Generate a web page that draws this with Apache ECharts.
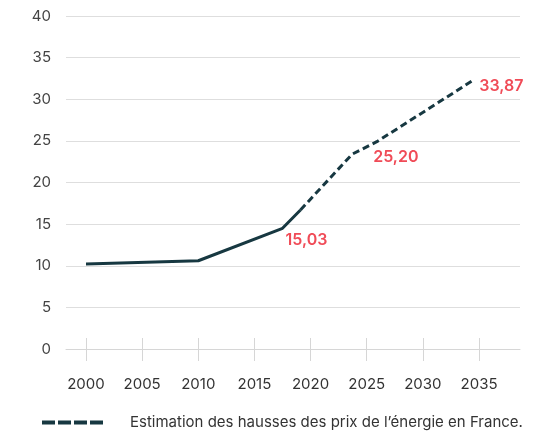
<!DOCTYPE html>
<html>
<head>
<meta charset="utf-8">
<script src="https://cdn.jsdelivr.net/npm/echarts@6/dist/echarts.min.js"></script>
<style>
  html, body { margin: 0; padding: 0; background: #fff; }
  #chart { width: 551px; height: 432px; }
</style>
</head>
<body>
<div id="chart"></div>
<script>
// historical (solid) part
const solidYears = [2000, 2010, 2017.5, 2019.1];
const solidValues = [10.2, 10.6, 14.5, 16.7];
// estimate (dashed) part
const dashYears = [2019.1, 2023.7, 2025.9, 2034.5];
const dashValues = [16.7, 23.4, 24.9, 32.3];
// annotated points
const labelYears = [2017.5, 2025.9, 2034.5];
const labelValues = [14.5, 24.9, 32.3];
const labelTexts = ['15,03', '25,20', '33,87'];
const labelOffsets = [[24, 12], [19, 15], [28, 6]];
const xTicks = [2000, 2005, 2010, 2015, 2020, 2025, 2030, 2035];
const legendName = "Estimation des hausses des prix de l\u2019énergie en France.";

const lineColor = '#173841';
const chart = echarts.init(document.getElementById('chart'));

const xBase = {
  type: 'value',
  min: 1998.22,
  max: 2038.65,
  splitLine: { show: false }
};

chart.setOption({
  animation: false,
  grid: { left: 66, right: 31, top: 16, bottom: 83 },
  legend: {
    data: [legendName],
    left: 37,
    top: 410,
    icon: 'path://M0,0h13v4h-13z M16,0h13v4h-13z M32,0h13v4h-13z M48,0h13v4h-13z',
    itemWidth: 61,
    itemHeight: 5,
    textStyle: { color: '#333', fontSize: 15, fontFamily: 'Inter', padding: [0, 0, 0, 22] }
  },
  xAxis: [
    {
      ...xBase,
      axisLine: { lineStyle: { color: '#d6d6d6' } },
      axisTick: { customValues: xTicks, length: 12, lineStyle: { color: '#d6d6d6' } },
      axisLabel: {
        customValues: xTicks,
        formatter: (v) => String(v),
        margin: 28,
        color: '#333',
        fontSize: 15,
        fontFamily: 'Inter'
      }
    },
    {
      ...xBase,
      position: 'bottom',
      axisLine: { show: false },
      axisTick: { customValues: xTicks, inside: true, length: 11, lineStyle: { color: '#d6d6d6' } },
      axisLabel: { show: false }
    }
  ],
  yAxis: {
    type: 'value',
    min: 0,
    max: 40,
    interval: 5,
    axisLine: { show: false },
    axisTick: { show: false },
    splitLine: { lineStyle: { color: '#dedede' } },
    axisLabel: { margin: 15, color: '#444', fontSize: 15, fontFamily: 'Inter' }
  },
  series: [
    {
      name: 'historique',
      type: 'line',
      symbol: 'none',
      data: solidYears.map((y, i) => [y, solidValues[i]]),
      lineStyle: { color: lineColor, width: 3 },
      itemStyle: { color: lineColor }
    },
    {
      name: 'estimation',
      type: 'line',
      symbol: 'none',
      data: dashYears.map((y, i) => [y, dashValues[i]]),
      lineStyle: { color: lineColor, width: 3, type: [7, 4] },
      itemStyle: { color: lineColor }
    },
    {
      // legend entry only
      name: legendName,
      type: 'scatter',
      data: [],
      itemStyle: { color: lineColor, opacity: 1 }
    },
    {
      name: 'labels',
      type: 'scatter',
      symbolSize: 1,
      itemStyle: { color: 'rgba(0,0,0,0)', opacity: 1 },
      data: labelYears.map((y, i) => ({
        value: [y, labelValues[i]],
        label: {
          show: true,
          position: 'inside',
          offset: labelOffsets[i],
          formatter: labelTexts[i],
          color: '#f04b57',
          opacity: 1,
          fontSize: 16,
          fontWeight: 600,
          fontFamily: 'Inter'
        }
      }))
    }
  ]
});
</script>
</body>
</html>
